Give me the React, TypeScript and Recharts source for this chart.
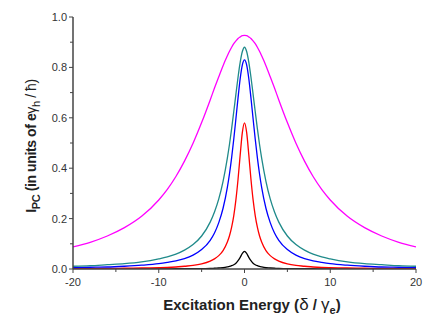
import { LineChart, Line, XAxis, YAxis } from 'recharts';

// excitation energy (delta / gamma_e)
const X = [
  -20, -18, -16, -14, -12, -10, -9, -8, -7, -6, -5, -4, -3.5, -3, -2.5, -2, -1.75, -1.5, -1.25, -1, -0.75, -0.5, -0.25,
  0,
  0.25, 0.5, 0.75, 1, 1.25, 1.5, 1.75, 2, 2.5, 3, 3.5, 4, 5, 6, 7, 8, 9, 10, 12, 14, 16, 18, 20,
];

// photocurrent
const MAGENTA = [
  0.088, 0.106, 0.131, 0.164, 0.209, 0.274, 0.316, 0.367, 0.428, 0.499, 0.581, 0.671, 0.718, 0.763, 0.807, 0.846, 0.864, 0.88, 0.894, 0.905, 0.915, 0.921, 0.926,
  0.927,
  0.926, 0.921, 0.915, 0.905, 0.894, 0.88, 0.864, 0.846, 0.807, 0.763, 0.718, 0.671, 0.581, 0.499, 0.428, 0.367, 0.316, 0.274, 0.209, 0.164, 0.131, 0.106, 0.088,
];
const TEAL = [
  0.011, 0.013, 0.017, 0.021, 0.028, 0.04, 0.048, 0.059, 0.075, 0.097, 0.131, 0.186, 0.226, 0.278, 0.348, 0.44, 0.495, 0.557, 0.625, 0.694, 0.762, 0.821, 0.863,
  0.88,
  0.863, 0.821, 0.762, 0.694, 0.625, 0.557, 0.495, 0.44, 0.348, 0.278, 0.226, 0.186, 0.131, 0.097, 0.075, 0.059, 0.048, 0.04, 0.028, 0.021, 0.017, 0.013, 0.011,
];
const BLUE = [
  0.006, 0.007, 0.008, 0.011, 0.015, 0.021, 0.026, 0.032, 0.041, 0.055, 0.077, 0.114, 0.143, 0.184, 0.241, 0.324, 0.378, 0.442, 0.516, 0.597, 0.68, 0.756, 0.81,
  0.83,
  0.81, 0.756, 0.68, 0.597, 0.516, 0.442, 0.378, 0.324, 0.241, 0.184, 0.143, 0.114, 0.077, 0.055, 0.041, 0.032, 0.026, 0.021, 0.015, 0.011, 0.008, 0.007, 0.006,
];
const RED = [
  0.001, 0.002, 0.002, 0.003, 0.004, 0.005, 0.006, 0.008, 0.011, 0.014, 0.02, 0.031, 0.04, 0.053, 0.073, 0.107, 0.132, 0.166, 0.212, 0.275, 0.357, 0.454, 0.542,
  0.58,
  0.542, 0.454, 0.357, 0.275, 0.212, 0.166, 0.132, 0.107, 0.073, 0.053, 0.04, 0.031, 0.02, 0.014, 0.011, 0.008, 0.006, 0.005, 0.004, 0.003, 0.002, 0.002, 0.001,
];
const BLACK = [
  0, 0, 0, 0, 0, 0, 0, 0.001, 0.001, 0.001, 0.001, 0.002, 0.003, 0.004, 0.005, 0.008, 0.01, 0.013, 0.017, 0.023, 0.033, 0.046, 0.062,
  0.07,
  0.062, 0.046, 0.033, 0.023, 0.017, 0.013, 0.01, 0.008, 0.005, 0.004, 0.003, 0.002, 0.001, 0.001, 0.001, 0.001, 0, 0, 0, 0, 0, 0, 0,
];

const X_TICKS = [-20, -15, -10, -5, 0, 5, 10, 15, 20];
const X_LABELED = [-20, -10, 0, 10, 20];
const Y_TICKS = [0, 0.1, 0.2, 0.3, 0.4, 0.5, 0.6, 0.7, 0.8, 0.9, 1.0];
const Y_LABELED = [0, 0.2, 0.4, 0.6, 0.8, 1.0];

const data = X.map((x, i) => ({
  x,
  black: BLACK[i],
  red: RED[i],
  blue: BLUE[i],
  teal: TEAL[i],
  magenta: MAGENTA[i],
}));

const AXIS = '#444';
const FONT = 'Arial, "Liberation Sans", sans-serif';

function XTick({ x, y, payload }: any) {
  const v = payload.value;
  const major = X_LABELED.includes(v);
  return (
    <g>
      <line x1={x} y1={y} x2={x} y2={y + (major ? 4 : 3)} stroke={AXIS} strokeWidth={1} />
      {major && (
        <text x={x} y={y + 17} textAnchor="middle" fontSize={11} fill="#333" fontFamily={FONT}>
          {v}
        </text>
      )}
    </g>
  );
}

function YTick({ x, y, payload }: any) {
  const v = payload.value;
  const major = Y_LABELED.some((t) => Math.abs(t - v) < 1e-6);
  return (
    <g>
      <line x1={x} y1={y} x2={x - (major ? 4 : 3)} y2={y} stroke={AXIS} strokeWidth={1} />
      {major && (
        <text x={x - 6} y={y + 4} textAnchor="end" fontSize={11} fill="#333" fontFamily={FONT}>
          {v.toFixed(1)}
        </text>
      )}
    </g>
  );
}

export default function App() {
  return (
    <div style={{ position: 'absolute', left: 0, top: 0, width: 436, height: 327, background: '#fff' }}>
      <LineChart width={436} height={327} data={data} margin={{ top: 17, right: 20, bottom: 28, left: 13 }}>
        <XAxis
          dataKey="x"
          type="number"
          domain={[-20, 20]}
          ticks={X_TICKS}
          interval={0}
          tickSize={0}
          tickMargin={0}
          tickLine={false}
          axisLine={{ stroke: AXIS, strokeWidth: 1.5 }}
          tick={(p: any) => <XTick {...p} />}
          allowDataOverflow
        />
        <YAxis
          type="number"
          domain={[0, 1]}
          ticks={Y_TICKS}
          interval={0}
          width={60}
          tickSize={0}
          tickMargin={0}
          tickLine={false}
          axisLine={{ stroke: AXIS, strokeWidth: 1.5 }}
          tick={(p: any) => <YTick {...p} />}
          allowDataOverflow
        />
        <Line type="monotone" dataKey="black" stroke="#000000" strokeWidth={1.3} dot={false} isAnimationActive={false} />
        <Line type="monotone" dataKey="red" stroke="#ff0000" strokeWidth={1.3} dot={false} isAnimationActive={false} />
        <Line type="monotone" dataKey="blue" stroke="#0000ff" strokeWidth={1.3} dot={false} isAnimationActive={false} />
        <Line type="monotone" dataKey="teal" stroke="#1f8a8a" strokeWidth={1.3} dot={false} isAnimationActive={false} />
        <Line type="monotone" dataKey="magenta" stroke="#ff00ff" strokeWidth={1.3} dot={false} isAnimationActive={false} />
      </LineChart>
      <svg width={436} height={327} style={{ position: 'absolute', left: 0, top: 0, pointerEvents: 'none' }}>
        <text x={252} y={310} textAnchor="middle" fontSize={15} fontWeight="bold" fill="#222" fontFamily={FONT}>
          Excitation Energy (
          <tspan fontWeight="normal" fontSize={17}>δ</tspan>
          <tspan> / </tspan>
          <tspan fontWeight="normal" fontSize={17}>γ</tspan>
          <tspan fontSize={11} dy={4}>e</tspan>
          <tspan dy={-4}>)</tspan>
        </text>
        <text
          transform="translate(36,146) rotate(-90)"
          textAnchor="middle"
          fontSize={14}
          fontWeight="bold"
          letterSpacing={-0.4}
          fill="#222"
          fontFamily={FONT}
        >
          I
          <tspan fontSize={11} dy={4}>PC</tspan>
          <tspan dy={-4}> (in units of e</tspan>
          <tspan fontWeight="normal">γ</tspan>
          <tspan fontSize={11} fontWeight="normal" dy={4}>h</tspan>
          <tspan fontWeight="normal" dy={-4}> / ħ)</tspan>
        </text>
      </svg>
    </div>
  );
}
